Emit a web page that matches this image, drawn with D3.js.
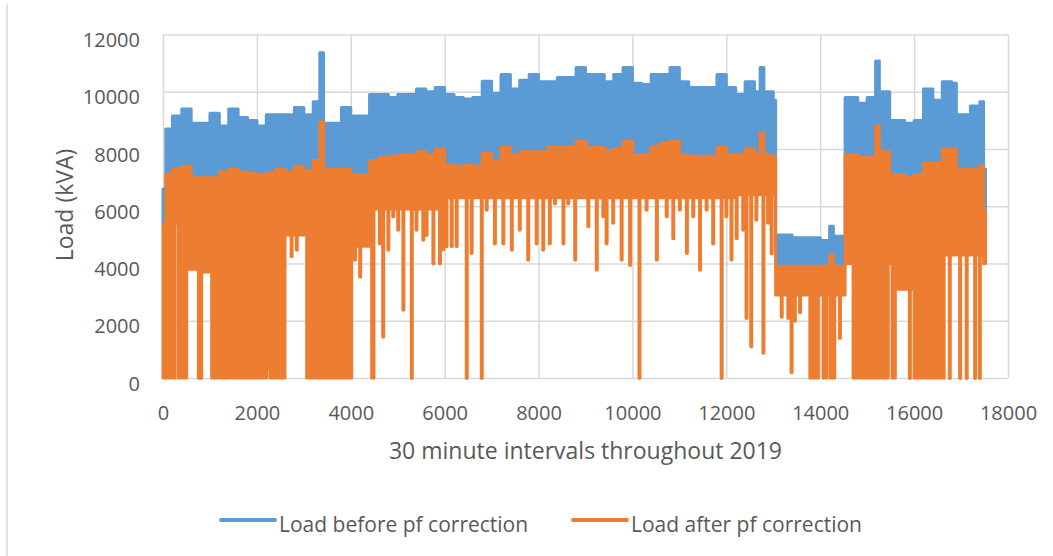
<!DOCTYPE html>
<html>
<head>
<meta charset="utf-8">
<script src="https://cdn.jsdelivr.net/npm/d3@7"></script>
<style>
    body { margin: 0; background: #fff; }
    text { font-family: "Open Sans", sans-serif; fill: #595959; }
</style>
</head>
<body>
<div id="chart"></div>
<script>
// Readings taken off the chart (x = index of the 30 minute interval)
const sampleX = [0, 60, 200, 400, 600, 800, 1000, 1200, 1400, 1600, 1800, 2000, 2200, 2400, 2600, 2800, 3000, 3200, 3340, 3420,
    3600, 3800, 4000, 4200, 4400, 4600, 4800, 5000, 5200, 5400, 5600, 5800, 6000, 6200, 6400, 6600, 6800, 7000, 7200, 7400,
    7600, 7800, 8000, 8200, 8400, 8600, 8800, 9000, 9200, 9400, 9600, 9800, 10000, 10200, 10400, 10600, 10800, 11000, 11200, 11400,
    11600, 11800, 12000, 12200, 12400, 12600, 12720, 12800, 13000, 13050, 13200, 13400, 13600, 13800, 14000, 14200, 14280, 14400, 14530, 14800,
    15000, 15180, 15260, 15480, 15800, 16000, 16200, 16400, 16600, 16800, 16900, 17200, 17400, 17480, 17520];

// upper edge of "Load before pf correction"
const blueHigh = [6600, 8700, 9150, 9400, 8900, 8900, 9250, 8800, 9400, 9100, 9000, 8800, 9200, 9200, 9200, 9450, 9200, 9650, 11360, 8900,
    8900, 9450, 9150, 9150, 9900, 9900, 9800, 9900, 9900, 10100, 10000, 10150, 9900, 9800, 9750, 9800, 10370, 9950, 10600, 10100,
    10400, 10600, 10350, 10350, 10500, 10500, 10850, 10600, 10600, 10350, 10600, 10850, 10300, 10250, 10600, 10600, 10850, 10350, 10150, 10150,
    10150, 10600, 10150, 9900, 10350, 10000, 10850, 10000, 9700, 5000, 5000, 4900, 4900, 4900, 4800, 5300, 4950, 4950, 9800, 9600,
    9800, 11070, 10000, 9000, 8900, 9000, 10100, 9700, 10350, 10300, 9200, 9500, 9650, 7300, 7300];

// upper edge of "Load after pf correction"
const orangeHigh = [5400, 7100, 7300, 7400, 7000, 7000, 7000, 7200, 7300, 7200, 7150, 7100, 7150, 7300, 7200, 7400, 7250, 7600, 8950, 7300,
    7300, 7300, 7100, 7100, 7600, 7700, 7750, 7800, 7800, 7900, 7800, 8000, 7450, 7400, 7450, 7400, 7860, 7600, 8050, 7800,
    7900, 7900, 7900, 8050, 8050, 8050, 8270, 8050, 8050, 7950, 8000, 8270, 7800, 7800, 8100, 8200, 8270, 7800, 7750, 7750,
    7750, 8050, 7800, 7800, 8000, 7800, 8570, 7800, 7700, 3900, 3900, 3900, 3900, 3900, 3900, 4300, 3900, 3900, 7800, 7700,
    7700, 8800, 7900, 7100, 7000, 7100, 7500, 7500, 8000, 8000, 7300, 7300, 7400, 5800, 5800];

// lower edge of the solid orange band (0 where the load keeps dropping to zero)
const lowX = [0, 256, 327, 504, 753, 824, 1037, 1214, 1271, 1427, 1484, 2208, 2279, 2598, 3060, 4019, 4445, 4494, 5900, 12200,
    13050, 13780, 13960, 14065, 14140, 14210, 14310, 14530, 14700, 15450, 15530, 15600, 16000, 16640, 17480];
const orangeLow = [0, 5400, 0, 3800, 0, 3700, 0, 5000, 0, 5000, 0, 300, 0, 5000, 0, 4600, 0, 5900, 6300, 6400,
    2900, 0, 2900, 0, 2900, 0, 2900, 4000, 0, 4000, 0, 3100, 0, 4300, 4000];

// single-interval drops of the corrected load
const dipX = [790, 2740, 2850, 4090, 4200, 4620, 4690, 4800, 4905, 5010, 5120, 5300, 5400, 5545, 5615, 5760, 5900, 5970, 6040, 6150,
    6256, 6470, 6575, 6790, 6895, 7070, 7250, 7430, 7600, 7780, 7960, 8100, 8240, 8350, 8530, 8633, 8780, 9060, 9240, 9380,
    9450, 9590, 9770, 9950, 10150, 10300, 10520, 10730, 10870, 11010, 11160, 11295, 11440, 11580, 11720, 11900, 12000, 12110, 12220, 12360,
    12430, 12530, 12640, 12790, 12890, 12965, 13180, 13320, 13390, 13460, 13570, 14420, 15910, 16760, 16980, 17120, 17300, 17400];
const dipVal = [0, 4250, 4480, 4130, 3540, 4700, 1440, 4480, 5640, 5180, 2380, 0, 5180, 4830, 5000, 4000, 4000, 4500, 4600, 4600,
    4600, 0, 4370, 0, 5880, 4700, 4700, 4480, 5180, 4130, 4700, 4480, 4700, 6100, 4700, 6100, 4130, 5300, 3780, 5650,
    4700, 5420, 4130, 3950, 0, 5880, 4130, 5650, 4880, 5880, 4370, 5650, 3780, 5880, 4700, 0, 5650, 4130, 4880, 5180,
    2100, 1100, 5530, 880, 5420, 4350, 2140, 2100, 200, 2000, 2300, 1400, 0, 0, 0, 0, 0, 0];

const xTicks = [0, 2000, 4000, 6000, 8000, 10000, 12000, 14000, 16000, 18000];
const yTicks = [0, 2000, 4000, 6000, 8000, 10000, 12000];

const seriesNames = ["Load before pf correction", "Load after pf correction"];
const colors = ["#5b9bd5", "#ed7d31"];

// Set up dimensions
const width = 1053;
const height = 556;
const plotLeft = 163, plotRight = 1008, plotTop = 34.5, plotBottom = 378;

const svg = d3.select("#chart")
    .append("svg")
    .attr("width", width)
    .attr("height", height);

svg.append("rect").attr("width", width).attr("height", height).attr("fill", "#fff");

// outer chart frame, only its left edge is in the picture
svg.append("line")
    .attr("x1", 7).attr("x2", 7).attr("y1", 4).attr("y2", height)
    .attr("stroke", "#d9d9d9").attr("stroke-width", 1.5);

const x = d3.scaleLinear().domain([0, 18000]).range([plotLeft, plotRight]);
const y = d3.scaleLinear().domain([0, 12000]).range([plotBottom, plotTop]);

// Axes with gridlines
svg.append("g")
    .attr("transform", `translate(${plotLeft},0)`)
    .call(d3.axisLeft(y).tickValues(yTicks).tickSize(-(plotRight - plotLeft)).tickPadding(23).tickFormat(d3.format("d")))
    .call(g => g.select(".domain").remove())
    .call(g => g.selectAll("line").attr("stroke", "#d9d9d9").attr("stroke-width", 1.5))
    .call(g => g.selectAll("text").attr("dy", "0.6em").style("font-size", "20px").style("font-family", null));

svg.append("g")
    .attr("transform", `translate(0,${plotBottom})`)
    .call(d3.axisBottom(x).tickValues(xTicks).tickSize(-(plotBottom - plotTop)).tickPadding(28).tickFormat(d3.format("d")))
    .call(g => g.select(".domain").remove())
    .call(g => g.selectAll("line").attr("stroke", "#d9d9d9").attr("stroke-width", 1.5))
    .call(g => g.selectAll("text").style("font-size", "20px").style("font-family", null));

// step lookup in the readings
function stepAt(xs, vals, v) {
    const i = d3.bisectRight(xs, v) - 1;
    return vals[Math.max(0, i)];
}

const gridX = Array.from(new Set(sampleX.concat(lowX))).sort((a, b) => a - b);
const rows = gridX.map(v => ({
    i: v,
    blue: stepAt(sampleX, blueHigh, v),
    top: stepAt(sampleX, orangeHigh, v),
    low: stepAt(lowX, orangeLow, v)
}));

const blueArea = d3.area().curve(d3.curveStepAfter)
    .x(d => x(d.i)).y0(d => y(d.top)).y1(d => y(d.blue));
const orangeArea = d3.area().curve(d3.curveStepAfter)
    .x(d => x(d.i)).y0(d => y(d.low)).y1(d => y(d.top));

svg.append("path")
    .datum(rows)
    .attr("d", blueArea)
    .attr("fill", colors[0])
    .attr("stroke", colors[0])
    .attr("stroke-width", 3)
    .attr("stroke-linejoin", "round");

svg.append("path")
    .datum(rows)
    .attr("d", orangeArea)
    .attr("fill", colors[1])
    .attr("stroke", colors[1])
    .attr("stroke-width", 3)
    .attr("stroke-linejoin", "round");

svg.selectAll(".dip")
    .data(dipX.map((v, k) => ({ i: v, v: dipVal[k] })))
    .enter().append("line")
    .attr("class", "dip")
    .attr("x1", d => x(d.i))
    .attr("x2", d => x(d.i))
    .attr("y1", d => y(Math.max(stepAt(lowX, orangeLow, d.i), d.v)))
    .attr("y2", d => y(d.v))
    .attr("stroke", colors[1])
    .attr("stroke-width", 4)
    .attr("stroke-linecap", "round");

// Axis titles
svg.append("text")
    .attr("x", (plotLeft + plotRight) / 2)
    .attr("y", 459)
    .attr("text-anchor", "middle")
    .style("font-size", "23px")
    .text("30 minute intervals throughout 2019");

svg.append("text")
    .attr("transform", "translate(73,205) rotate(-90)")
    .attr("text-anchor", "middle")
    .style("font-size", "23px")
    .text("Load (kVA)");

// Legend
const legendX = [221, 573];
seriesNames.forEach((name, k) => {
    svg.append("line")
        .attr("x1", legendX[k]).attr("x2", legendX[k] + 54)
        .attr("y1", 520).attr("y2", 520)
        .attr("stroke", colors[k]).attr("stroke-width", 4)
        .attr("stroke-linecap", "round");
    svg.append("text")
        .attr("x", legendX[k] + 58)
        .attr("y", 532)
        .style("font-size", "21px")
        .text(name);
});
</script>
</body>
</html>
